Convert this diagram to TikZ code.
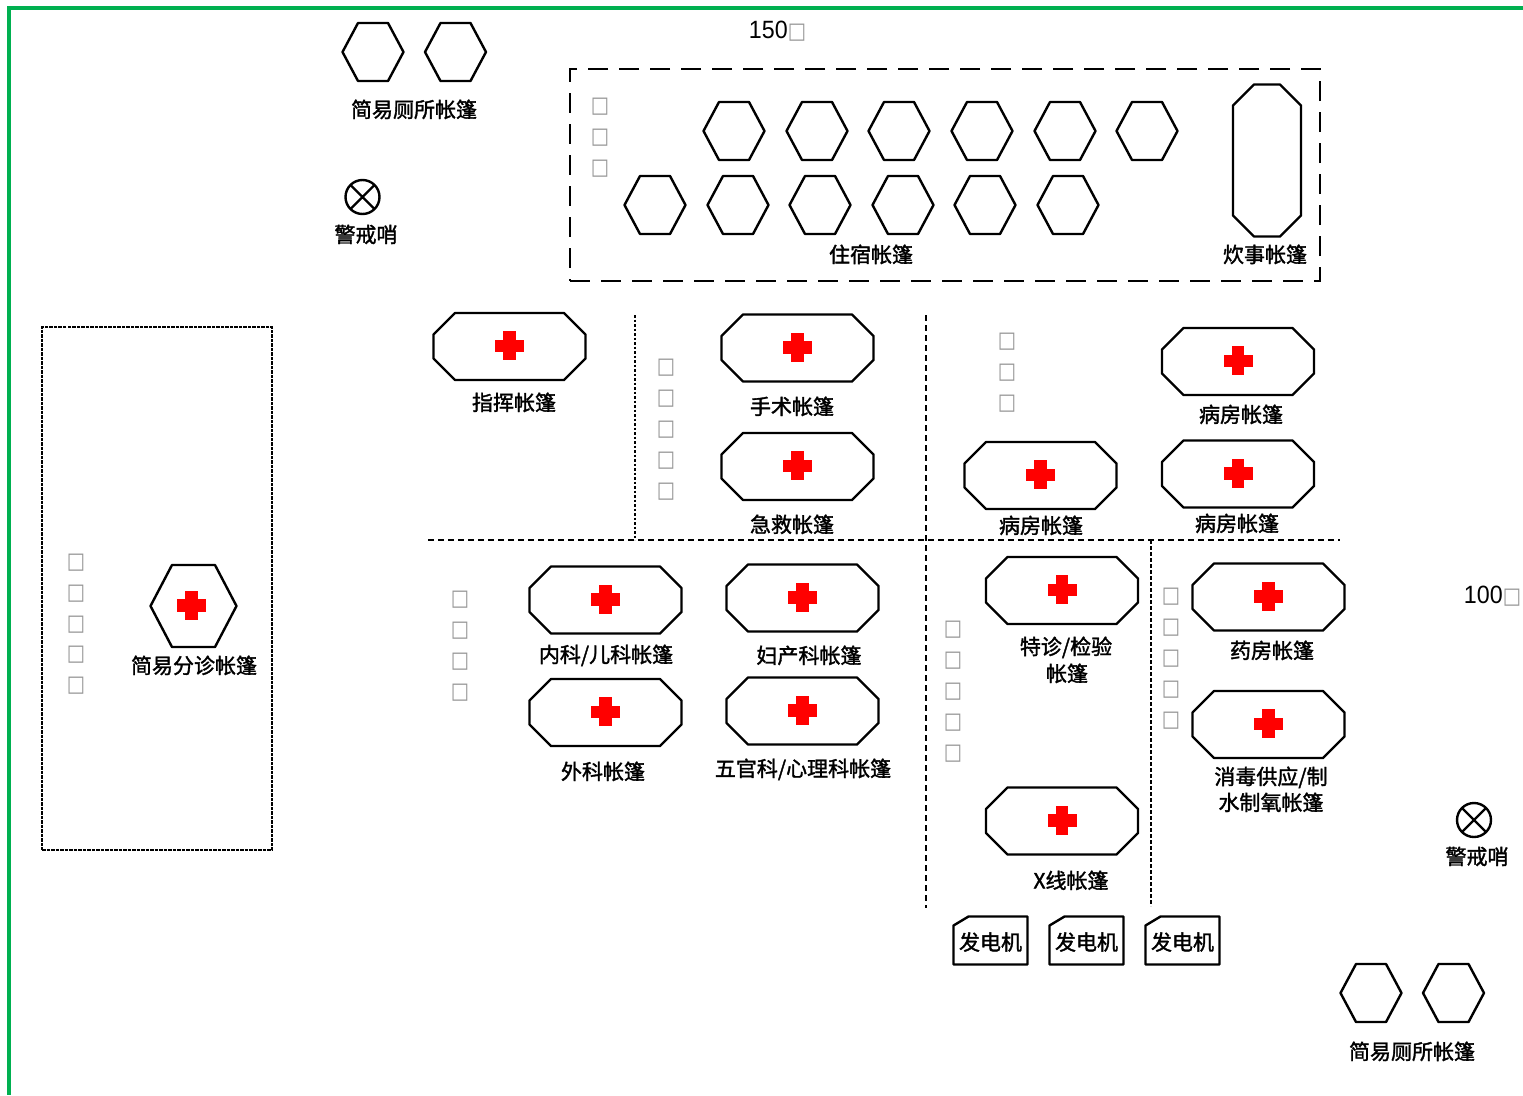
\documentclass[tikz,border=0pt]{standalone}
\usepackage{fontspec}
\setmainfont{Liberation Sans}
\newfontfamily\cjkf[FakeBold=1.6]{Noto Sans CJK SC}
\newfontfamily\symf{DejaVu Sans}
\definecolor{borderg}{RGB}{0,176,80}
\definecolor{tofug}{RGB}{150,150,150}
\newcommand{\tofuch}{\scalebox{0.88}[1.02]{\symf\fontsize{22}{22}\selectfont\textcolor{tofug}{□}}}
\newcommand{\numtxt}[1]{\scalebox{0.93}[1]{\fontsize{25}{28}\selectfont #1}}
\tikzset{
  x=1pt,y=-1pt,
  shapeline/.style={draw=black,line width=2.4pt,line join=round,fill=white},
  anchorbox/.style={draw=none,inner sep=0pt,outer sep=0pt,minimum size=1pt},
  genlab/.style={inner sep=0pt,font=\cjkf\fontsize{21}{25}\selectfont},
  lab/.style={inner sep=0pt,yshift=-0.4pt,font=\cjkf\fontsize{21}{25}\selectfont},
  num/.style={inner sep=0pt},
  tofu/.style={inner sep=0pt,yshift=-1pt},
  whistle/.style={circle,draw=black,line width=2.4pt,minimum size=34pt,inner sep=0pt,outer sep=0pt},
  redcross/.style={fill=red,draw=none},
  bigdash/.style={draw=black,line width=2.6pt,dash pattern=on 20pt off 11pt},
  finebox/.style={draw=black,line width=2.2pt,dash pattern=on 3.5pt off 1pt},
  sepdash/.style={draw=black,line width=2.2pt,dash pattern=on 6pt off 4pt},
  sepdot/.style={draw=black,line width=2.2pt,dash pattern=on 2.5pt off 2pt},
}
% #1 name, #2 cx, #3 cy, #4 half w, #5 half h, #6 chamfer x, #7 chamfer y
\newcommand{\octa}[7]{%
  \node[anchorbox] (#1) at (#2,#3) {};
  \draw[shapeline] (#2-#4+#6,#3-#5) -- (#2+#4-#6,#3-#5) -- (#2+#4,#3-#5+#7) -- (#2+#4,#3+#5-#7) -- (#2+#4-#6,#3+#5) -- (#2-#4+#6,#3+#5) -- (#2-#4,#3+#5-#7) -- (#2-#4,#3-#5+#7) -- cycle;}
\newcommand{\hexa}[3]{\octa{#1}{#2}{#3}{30.5}{29}{15.5}{29}}
\newcommand{\medcross}[2]{\fill[redcross] (#1-14.5,#2-6.3) rectangle (#1+14.5,#2+6.3);\fill[redcross] (#1-6.3,#2-14.5) rectangle (#1+6.3,#2+14.5);}
\newcommand{\tent}[3]{\octa{#1}{#2}{#3}{76}{33.5}{21.5}{21.5}\medcross{#2}{#3-0.7}}
\newcommand{\gener}[2]{%
  \draw[shapeline] (#2-37+15,916.5) -- (#2+37,916.5) -- (#2+37,964.5) -- (#2-37,964.5) -- (#2-37,916.5+9) -- cycle;
  \node[genlab] (#1) at (#2,942) {发电机};}
\begin{document}
\begin{tikzpicture}
\useasboundingbox (0,0) rectangle (1523,1095);
\fill[white] (0,0) rectangle (1523,1095);
% border
\coordinate (bTR) at (1523,7.5);\coordinate (bTL) at (8.5,7.5);\coordinate (bBL) at (8.5,1095);
\draw[borderg,line width=4pt,line join=miter] (bTR) -- (bTL) -- (bBL);
% dashed boxes
\node[inner sep=0pt,minimum width=750pt,minimum height=212pt,bigdash,outer sep=0pt] (dorm) at (945,175) {};
\node[finebox,inner sep=0pt,minimum width=230pt,minimum height=523pt,outer sep=0pt] (triagezone) at (157,588.5) {};
% separators
\coordinate (hA) at (428,540);\coordinate (hB) at (1340,540);
\coordinate (vA1) at (926,315);\coordinate (vA2) at (926,908);
\coordinate (vB1) at (635,315);\coordinate (vB2) at (635,540);
\coordinate (vC1) at (1151,540);\coordinate (vC2) at (1151,906);
\draw[sepdash] (hA) -- (hB);
\draw[sepdash] (vA1) -- (vA2);
\draw[sepdot] (vB1) -- (vB2);
\draw[sepdot,dash pattern=on 3.5pt off 2.5pt] (vC1) -- (vC2);
% hexagons
\hexa{wc1}{373}{52}
\hexa{wc2}{455.5}{52}
\hexa{wc3}{1371}{993}
\hexa{wc4}{1453.5}{993}
\foreach \n/\x in {a/734,b/817,c/899,d/982,e/1065,f/1147}{\hexa{r1\n}{\x}{131}}
\foreach \n/\x in {a/655,b/738,c/820,d/903,e/985,f/1068}{\hexa{r2\n}{\x}{205}}
\octa{kitchen}{1267}{160.5}{34}{76}{21}{21}
% whistles
\node[whistle] (w1) at (362.5,197) {};
\draw[line width=2.4pt] (w1.north west) -- (w1.south east) (w1.north east) -- (w1.south west);
\node[whistle] (w2) at (1474,820) {};
\draw[line width=2.4pt] (w2.north west) -- (w2.south east) (w2.north east) -- (w2.south west);
% triage
\octa{triage}{193.5}{606}{43}{41}{21.5}{41}
\medcross{191.5}{605.5}
% tents
\tent{t1}{509.5}{346.5}
\tent{t2}{797.5}{348}
\tent{t3}{797.5}{466.5}
\tent{t4}{1238}{361.5}
\tent{t5}{1238}{474}
\tent{t6}{1040.5}{475.5}
\tent{t7}{605.5}{600}
\tent{t8}{605.5}{712.5}
\tent{t9}{802.5}{598}
\tent{t10}{802.5}{711}
\tent{t11}{1062}{590.5}
\tent{t12}{1062}{821}
\tent{t13}{1268.5}{597}
\tent{t14}{1268.5}{724.5}
% generators
\gener{g1}{990.5}
\gener{g2}{1086.5}
\gener{g3}{1182.5}
% labels
\node[lab] (l1) at (414,109) {简易厕所帐篷};
\node[lab] (l2) at (366,234) {警戒哨};
\node[lab] (l3) at (871,254) {住宿帐篷};
\node[lab] (l4) at (1265,254) {炊事帐篷};
\node[lab] (l5) at (194,665) {简易分诊帐篷};
\node[lab] (l6) at (514,402) {指挥帐篷};
\node[lab] (l7) at (792,406) {手术帐篷};
\node[lab] (l8) at (792,524) {急救帐篷};
\node[lab] (l9) at (1241,414) {病房帐篷};
\node[lab] (l10) at (1237,523) {病房帐篷};
\node[lab] (l11) at (1041,525) {病房帐篷};
\node[lab] (l12) at (606,655) {内科/儿科帐篷};
\node[lab] (l13) at (603,771) {外科帐篷};
\node[lab] (l14) at (809,655) {妇产科帐篷};
\node[lab] (l15) at (803,769) {五官科/心理科帐篷};
\node[lab] (l16) at (1066,647) {特诊/检验};
\node[lab] (l17) at (1067,673) {帐篷};
\node[lab] (l18) at (1071,880) {X线帐篷};
\node[lab] (l19) at (1272,650) {药房帐篷};
\node[lab] (l20) at (1271,777) {消毒供应/制};
\node[lab] (l21) at (1271,802) {水制氧帐篷};
\node[lab] (l22) at (1477,856) {警戒哨};
\node[lab] (l23) at (1412,1051) {简易厕所帐篷};
\node[num] (n1) at (777.5,31) {\numtxt{150}\tofuch};
\node[num] (n2) at (1492.5,596) {\numtxt{100}\tofuch};
% stacked missing-glyph boxes
\foreach \y [count=\i] in {106,137,168}{\node[tofu] (ta\i) at (600,\y) {\tofuch};}
\foreach \y [count=\i] in {562,593,624,654,685}{\node[tofu] (tb\i) at (76,\y) {\tofuch};}
\foreach \y [count=\i] in {367,398,429,460,491}{\node[tofu] (tc\i) at (666,\y) {\tofuch};}
\foreach \y [count=\i] in {341,372,403}{\node[tofu] (td\i) at (1007,\y) {\tofuch};}
\foreach \y [count=\i] in {599,630,661,692}{\node[tofu] (te\i) at (460,\y) {\tofuch};}
\foreach \y [count=\i] in {629,660,691,722,753}{\node[tofu] (tf\i) at (953,\y) {\tofuch};}
\foreach \y [count=\i] in {596,627,658,689,720}{\node[tofu] (tg\i) at (1171,\y) {\tofuch};}
\end{tikzpicture}
\end{document}
